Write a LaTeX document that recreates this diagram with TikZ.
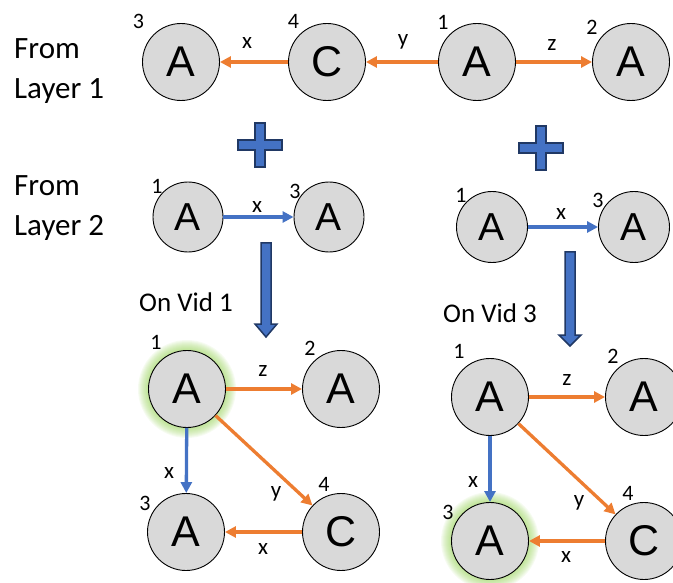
\documentclass[tikz,border=0pt]{standalone}
\usepackage{fontspec}
\setmainfont{Carlito}
\newfontfamily\nodefont{Liberation Sans}
\usetikzlibrary{arrows.meta}
\definecolor{edgeorange}{HTML}{ED7D31}
\definecolor{edgeblue}{HTML}{4472C4}
\definecolor{vertgray}{HTML}{D9D9D9}
\definecolor{navy}{HTML}{203864}
\definecolor{glowgreen}{HTML}{92D050}
\tikzset{
  vert/.style={circle, draw=black, line width=0.9pt, fill=vertgray,
    minimum size=77pt, inner sep=0pt, font=\nodefont\fontsize{43}{43}\selectfont},
  vertsm/.style={vert, minimum size=70pt, font=\nodefont\fontsize{39}{39}\selectfont},
  num/.style={inner sep=0pt, font=\fontsize{22}{22}\selectfont},
  elabel/.style={inner sep=0pt, font=\fontsize{23}{23}\selectfont},
  oedge/.style={draw=edgeorange, line width=3.3pt, -{Triangle[length=11pt,width=11pt]}},
  bedge/.style={draw=edgeblue, line width=3.3pt, -{Triangle[length=11pt,width=11pt]}},
  side/.style={anchor=west, align=left, inner sep=0pt, font=\fontsize{31}{40}\selectfont},
  vidlabel/.style={inner sep=0pt, font=\fontsize{27}{27}\selectfont},
  bigsign/.style={fill=edgeblue, draw=navy, line width=1.5pt, line join=miter},
}
\newcommand{\glowat}[1]{%
  \foreach \k in {11,10,...,1}{\fill[glowgreen, opacity=0.08] #1 circle[radius=38+\k];}}
\newcommand{\plusat}[2]{%
  \draw[bigsign] (#1-5,#2-22) -- (#1+5,#2-22) -- (#1+5,#2-5) -- (#1+22,#2-5)
    -- (#1+22,#2+5) -- (#1+5,#2+5) -- (#1+5,#2+22) -- (#1-5,#2+22)
    -- (#1-5,#2+5) -- (#1-22,#2+5) -- (#1-22,#2-5) -- (#1-5,#2-5) -- cycle;}
\newcommand{\downarrowat}[4]{%
  % x, top, head base, tip
  \draw[bigsign] (#1-5,#2) -- (#1+5,#2) -- (#1+5,#3) -- (#1+11,#3) -- (#1,#4)
    -- (#1-11,#3) -- (#1-5,#3) -- cycle;}
\begin{document}
\begin{tikzpicture}[x=1pt,y=-1pt]
\useasboundingbox (0,0) rectangle (673,583);
\clip (0,0) rectangle (673,583);

% side captions
\node[side] (cap1) at (14,71) {From\\Layer 1};
\node[side] (cap2) at (14,208) {From\\Layer 2};

% ---------- layer 1 pattern ----------
\node[vert] (ta3) at (181,62) {A};
\node[vert] (tc4) at (327,62) {C};
\node[vert] (ta1) at (477,62) {A};
\node[vert] (ta2) at (631,62) {A};
\node[num] (tn3) at (138.5,21) {3};
\node[num] (tn4) at (293.5,21) {4};
\node[num] (tn1) at (443,22) {1};
\node[num] (tn2) at (592,27) {2};
\draw[oedge] (tc4) -- (ta3);
\draw[oedge] (ta1) -- (tc4);
\draw[oedge] (ta1) -- (ta2);
\node[elabel] (tlx) at (247,43) {x};
\node[elabel] (tly) at (403,42) {y};
\node[elabel] (tlz) at (552,45) {z};

% plus signs
\plusat{260}{145}
\plusat{541}{148}

% ---------- layer 2 patterns ----------
\node[vertsm] (ma1) at (188,217) {A};
\node[vertsm] (ma3) at (329,217) {A};
\node[num] (mn1) at (157,186) {1};
\node[num] (mn3) at (295,191) {3};
\draw[bedge] (ma1) -- (ma3);
\node[elabel] (mlx) at (257,207) {x};

\node[vertsm, minimum size=71pt] (ra1) at (492,227) {A};
\node[vertsm, minimum size=71pt] (ra3) at (634,227) {A};
\node[num] (rn1) at (461,195) {1};
\node[num] (rn3) at (598,200) {3};
\draw[bedge] (ra1) -- (ra3);
\node[elabel] (rlx) at (561,214) {x};

% join arrows
\downarrowat{266}{243}{324}{337}
\downarrowat{570}{252}{335}{346}

\node[vidlabel] (vid1) at (186,302) {On Vid 1};
\node[vidlabel] (vid3) at (490,313) {On Vid 3};

% ---------- merged graph on vid 1 ----------
\glowat{(187,389)}
\node[vert] (b1) at (187,389) {A};
\node[vert] (b2) at (341,389) {A};
\node[vert] (b3) at (186,532) {A};
\node[vert] (b4) at (341,532) {C};
\node[num] (bn1) at (156,342) {1};
\node[num] (bn2) at (310,348) {2};
\node[num] (bn3) at (145,503) {3};
\node[num] (bn4) at (324,484) {4};
\draw[oedge] (b1) -- (b2);
\draw[bedge] (b1) -- (b3);
\draw[oedge] (b1) -- (b4);
\draw[oedge] (b4) -- (b3);
\node[elabel] (blz) at (263,371) {z};
\node[elabel] (blx) at (169,473) {x};
\node[elabel] (bly) at (276,494) {y};
\node[elabel] (blx2) at (263,549) {x};

% ---------- merged graph on vid 3 ----------
\glowat{(490,541)}
\node[vert] (c1) at (490,397) {A};
\node[vert] (c2) at (644,397) {A};
\node[vert] (c3) at (490,541) {A};
\node[vert] (c4) at (644,541) {C};
\node[num] (cn1) at (459,351) {1};
\node[num] (cn2) at (613,356) {2};
\node[num] (cn3) at (448,512) {3};
\node[num] (cn4) at (628,493) {4};
\draw[oedge] (c1) -- (c2);
\draw[bedge] (c1) -- (c3);
\draw[oedge] (c1) -- (c4);
\draw[oedge] (c4) -- (c3);
\node[elabel] (clz) at (567,380) {z};
\node[elabel] (clx) at (473,482) {x};
\node[elabel] (cly) at (579,503) {y};
\node[elabel] (clx2) at (566,557) {x};
\end{tikzpicture}
\end{document}
